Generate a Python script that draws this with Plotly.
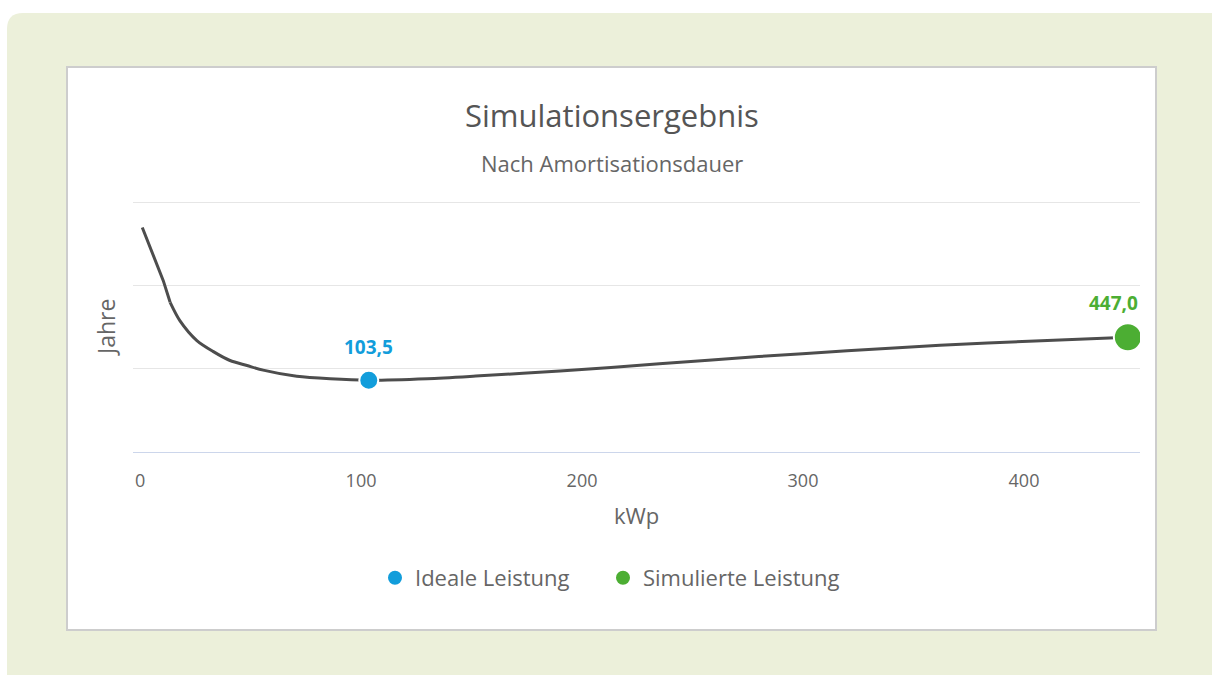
import plotly.graph_objects as go

# ---- data ----
kwp_steep = [1, 10.5, 13.6]
jahre_steep = [13.5, 10.3, 9.0]
kwp_curve = [13.6, 18, 25.7, 33, 40.7, 48.4, 55.7, 70.9, 86, 103.5, 130, 153.8, 190, 235, 280, 320, 362, 405, 447]
jahre_curve = [9.0, 7.9, 6.7, 6.05, 5.5, 5.2, 4.92, 4.55, 4.4, 4.32, 4.41, 4.58, 4.87, 5.3, 5.74, 6.08, 6.42, 6.68, 6.9]
ideal_x = [103.5]
ideal_y = [4.32]
sim_x = [447.0]
sim_y = [6.9]
x_ticks = [0, 100, 200, 300, 400]
y_ticks = [0, 5, 10, 15]

W, H = 1212, 675
L, R, T, B = 133, 72, 200, 223
PW, PH = W - L - R, H - T - B

def px(x):
    return (x - L) / PW

def py(y):
    return (H - B - y) / PH

FONT = "Open Sans"
BLUE = "#129ddb"
GREEN = "#4cae33"
LINE = "#4d4d4d"
TXT = "#666666"

fig = go.Figure()
fig.add_trace(go.Scatter(x=kwp_steep, y=jahre_steep, mode="lines",
                         line=dict(color=LINE, width=3), showlegend=False, hoverinfo="skip"))
fig.add_trace(go.Scatter(x=kwp_curve, y=jahre_curve, mode="lines",
                         line=dict(color=LINE, width=3, shape="spline", smoothing=0.8),
                         showlegend=False, hoverinfo="skip"))
fig.add_trace(go.Scatter(x=ideal_x, y=ideal_y, mode="markers", name="Ideale Leistung", legend="legend",
                         marker=dict(color=BLUE, size=19, line=dict(color="white", width=2))))
fig.add_trace(go.Scatter(x=sim_x, y=sim_y, mode="markers", name="Simulierte Leistung", legend="legend2",
                         marker=dict(color=GREEN, size=28, line=dict(color="white", width=2))))

# outer rounded background and white panel
r = 16
x0, y0 = 7, 13
x1, y1 = 1240, 700
path = (f"M {px(x0)},{py(y0 + r)} Q {px(x0)},{py(y0)} {px(x0 + r)},{py(y0)} "
        f"L {px(x1)},{py(y0)} L {px(x1)},{py(y1)} L {px(x0)},{py(y1)} Z")
shapes = [
    dict(type="path", xref="paper", yref="paper", path=path,
         fillcolor="#ecf0da", line=dict(width=0), layer="below"),
    dict(type="rect", xref="paper", yref="paper", x0=px(67), x1=px(1156), y0=py(67), y1=py(630),
         fillcolor="white", line=dict(color="#cdcdcd", width=2), layer="below"),
]

annotations = [
    dict(text="Simulationsergebnis", xref="paper", yref="paper", x=px(611.5), y=py(115),
         showarrow=False, font=dict(family=FONT, size=31, color="#555555"), xanchor="center", yanchor="middle"),
    dict(text="Nach Amortisationsdauer", xref="paper", yref="paper", x=px(611.5), y=py(163),
         showarrow=False, font=dict(family=FONT, size=22, color=TXT), xanchor="center", yanchor="middle"),
    dict(text="Jahre", xref="paper", yref="paper", x=px(106), y=py(328), textangle=-90,
         showarrow=False, font=dict(family=FONT, size=23, color=TXT), xanchor="center", yanchor="middle"),
    dict(text="kWp", xref="paper", yref="paper", x=px(636), y=py(515),
         showarrow=False, font=dict(family=FONT, size=22, color=TXT), xanchor="center", yanchor="middle"),
    dict(text=f"<b>{ideal_x[0]:.1f}</b>".replace(".", ","), x=ideal_x[0], y=ideal_y[0], xref="x", yref="y",
         yshift=33, showarrow=False, font=dict(family=FONT, size=19, color=BLUE),
         xanchor="center", yanchor="middle"),
    dict(text=f"<b>{sim_x[0]:.1f}</b>".replace(".", ","), x=sim_x[0], y=sim_y[0], xref="x", yref="y",
         yshift=34, xshift=-14, showarrow=False, font=dict(family=FONT, size=19, color=GREEN),
         xanchor="center", yanchor="middle"),
]

legend_common = dict(orientation="h", y=py(578), xanchor="left", yanchor="middle",
                     font=dict(family=FONT, size=22, color=TXT), itemsizing="trace",
                     bgcolor="rgba(0,0,0,0)", itemclick=False, itemdoubleclick=False)

fig.update_layout(
    width=W, height=H,
    margin=dict(l=L, r=R, t=T, b=B, pad=0),
    paper_bgcolor="white",
    plot_bgcolor="rgba(0,0,0,0)",
    separators=",.",
    font=dict(family=FONT, color=TXT),
    shapes=shapes,
    annotations=annotations,
    showlegend=True,
    legend=dict(x=px(375), **legend_common),
    legend2=dict(x=px(603), **legend_common),
    xaxis=dict(range=[-3.2, 452.5], tickvals=x_ticks, showgrid=False, zeroline=False,
               showline=True, linecolor="#ccd6eb", linewidth=1, ticks="",
               tickfont=dict(family=FONT, size=18, color=TXT), ticklabelstandoff=12, fixedrange=True),
    yaxis=dict(range=[0, 15.15], tickvals=y_ticks, showgrid=True, gridcolor="#e6e6e6", gridwidth=1,
               zeroline=False, showline=False, showticklabels=False, ticks="", fixedrange=True),
)

fig.write_html("out.html", config={"displayModeBar": False},
               post_script="document.body.style.margin='0';document.body.style.padding='0';")
